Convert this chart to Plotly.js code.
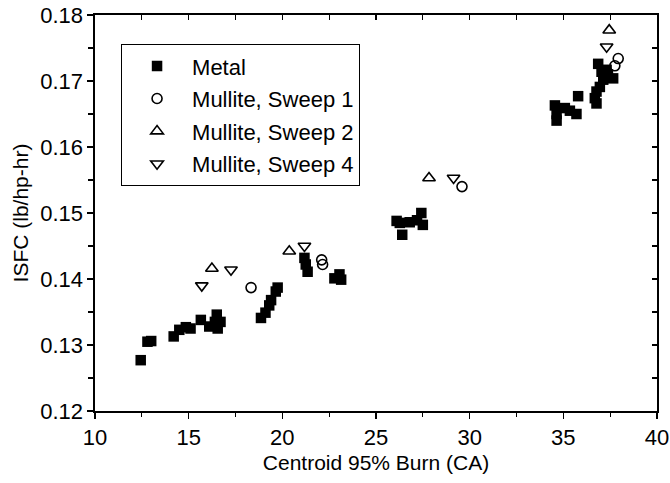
<!DOCTYPE html>
<html>
<head>
<meta charset="utf-8">
<script src="https://cdn.plot.ly/plotly-3.0.1.min.js"></script>
<style>html,body{margin:0;padding:0;background:#fff;}#chart{width:670px;height:483px;}</style>
</head>
<body>
<div id="chart"></div>
<script>
// Metal
const metalX = [12.44, 12.8, 13.0, 14.2, 14.5, 14.85, 15.1, 15.65, 16.1, 16.4, 16.5, 16.55, 16.7,
  18.86, 19.1, 19.3, 19.4, 19.65, 19.75,
  21.18, 21.25, 21.35, 22.78, 23.05, 23.14,
  26.1, 26.27, 26.4, 26.8, 27.19, 27.42, 27.5,
  34.55, 34.64, 34.64, 35.08, 35.35, 35.7, 35.79,
  36.68, 36.77, 36.77, 36.95, 37.13, 36.86, 37.04, 37.31, 37.38, 37.66];
const metalY = [0.1277, 0.1305, 0.1306, 0.1313, 0.1323, 0.1327, 0.1325, 0.1338, 0.1328, 0.1335, 0.1346, 0.1325, 0.1335,
  0.1341, 0.1349, 0.1360, 0.1368, 0.1381, 0.1387,
  0.1432, 0.1422, 0.1411, 0.1401, 0.1407, 0.1399,
  0.1488, 0.1485, 0.1467, 0.1486, 0.1489, 0.1500, 0.1482,
  0.1663, 0.1650, 0.1640, 0.1659, 0.1655, 0.1650, 0.1677,
  0.1674, 0.1666, 0.1684, 0.1691, 0.1702, 0.1726, 0.1714, 0.1717, 0.1710, 0.1704];
// Mullite, Sweep 1
const sweep1X = [18.33, 22.1, 22.15, 29.59, 37.75, 37.93];
const sweep1Y = [0.1387, 0.1429, 0.1422, 0.1540, 0.1723, 0.1734];
// Mullite, Sweep 2
const sweep2X = [16.24, 20.37, 27.83, 37.45];
const sweep2Y = [0.1416, 0.1442, 0.1553, 0.1777];
// Mullite, Sweep 4
const sweep4X = [15.7, 17.26, 21.18, 29.14, 37.31];
const sweep4Y = [0.1390, 0.1414, 0.1450, 0.1553, 0.1752];

const seriesNames = ["Metal", "Mullite, Sweep 1", "Mullite, Sweep 2", "Mullite, Sweep 4"];
const xTickVals = [10, 15, 20, 25, 30, 35, 40];
const yTickVals = [0.12, 0.13, 0.14, 0.15, 0.16, 0.17, 0.18];

const FONT = '"Liberation Sans", Arial, Helvetica, sans-serif';

const traces = [
  {x: metalX, y: metalY, name: seriesNames[0], mode: 'markers', type: 'scatter', legendgroup: 'a',
   marker: {symbol: 'square', size: 10.5, color: '#000'}},
  {x: sweep1X, y: sweep1Y, name: seriesNames[1], mode: 'markers', type: 'scatter', legendgroup: 'b',
   marker: {symbol: 'circle-open', size: 10, color: '#000', line: {width: 1.6, color: '#000'}}},
  {x: sweep2X, y: sweep2Y, name: seriesNames[2], mode: 'markers', type: 'scatter', legendgroup: 'c',
   marker: {symbol: 'triangle-up-open', size: 11, color: '#000', line: {width: 1.6, color: '#000'}}},
  {x: sweep4X, y: sweep4Y, name: seriesNames[3], mode: 'markers', type: 'scatter', legendgroup: 'd',
   marker: {symbol: 'triangle-down-open', size: 11, color: '#000', line: {width: 1.6, color: '#000'}}},
  {x: [], y: [], xaxis: 'x2', yaxis: 'y2', showlegend: false, type: 'scatter', mode: 'markers'}
];

const layout = {
  width: 670, height: 483,
  paper_bgcolor: '#fff', plot_bgcolor: '#fff',
  margin: {l: 95, r: 13, t: 15, b: 72},
  font: {family: FONT, size: 21, color: '#000'},
  showlegend: true,
  legend: {
    x: 0.046, y: 0.927, xanchor: 'left', yanchor: 'top',
    bgcolor: '#fff', bordercolor: '#000', borderwidth: 1.2,
    font: {family: FONT, size: 22, color: '#000'},
    traceorder: 'grouped', tracegroupgap: 1, itemwidth: 60
  },
  xaxis: {
    range: [10, 40], tickvals: xTickVals, ticks: 'outside', ticklen: 6, tickwidth: 1.3, tickcolor: '#000',
    minor: {dtick: 2.5, tick0: 10, ticks: 'outside', ticklen: 4, tickwidth: 1.2, tickcolor: '#000', showgrid: false},
    showline: true, linecolor: '#000', linewidth: 1.6, showgrid: false, zeroline: false,
    tickfont: {family: FONT, size: 22, color: '#000'},
    title: {text: 'Centroid 95% Burn (CA)', font: {family: FONT, size: 21, color: '#000'}, standoff: 6}
  },
  yaxis: {
    range: [0.12, 0.18], tickvals: yTickVals, tickformat: '.2f', ticks: 'outside', ticklen: 6, tickwidth: 1.3, tickcolor: '#000',
    minor: {dtick: 0.005, tick0: 0.12, ticks: 'outside', ticklen: 5, tickwidth: 1.2, tickcolor: '#000', showgrid: false},
    showline: true, linecolor: '#000', linewidth: 1.6, showgrid: false, zeroline: false,
    tickfont: {family: FONT, size: 22, color: '#000'},
    title: {text: 'ISFC (lb/hp-hr)', font: {family: FONT, size: 21, color: '#000'}, standoff: 6}
  },
  xaxis2: {
    overlaying: 'x', side: 'top', anchor: 'y2', range: [10, 40], showticklabels: false,
    tickvals: [12.5, 15, 17.5, 20, 22.5, 25, 27.5, 30, 32.5, 35, 37.5],
    ticks: 'inside', ticklen: 5, tickwidth: 1.2, tickcolor: '#000',
    showline: true, linecolor: '#000', linewidth: 1.6, showgrid: false, zeroline: false
  },
  yaxis2: {
    overlaying: 'y', side: 'right', anchor: 'x2', range: [0.12, 0.18], showticklabels: false,
    tickvals: [0.125, 0.13, 0.135, 0.14, 0.145, 0.15, 0.155, 0.16, 0.165, 0.17, 0.175],
    ticks: 'inside', ticklen: 5, tickwidth: 1.2, tickcolor: '#000',
    showline: true, linecolor: '#000', linewidth: 1.6, showgrid: false, zeroline: false
  }
};

Plotly.newPlot('chart', traces, layout, {displayModeBar: false, staticPlot: true});
</script>
</body>
</html>
